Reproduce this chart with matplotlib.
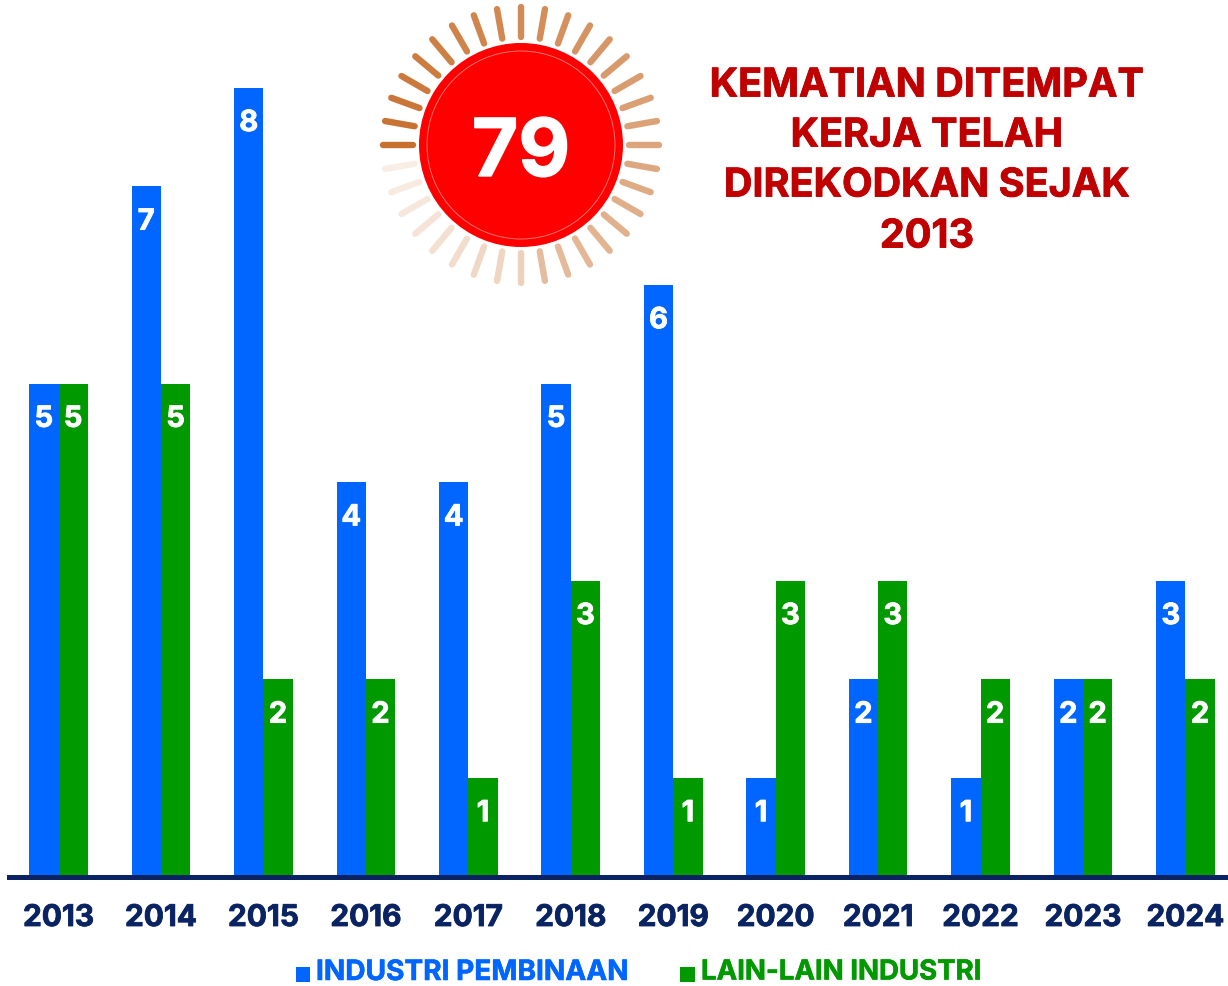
import numpy as np
import matplotlib
matplotlib.use('Agg')
import matplotlib.pyplot as plt
import matplotlib.patheffects as pe
from matplotlib.patches import Circle, Rectangle

# data
years = ['2013', '2014', '2015', '2016', '2017', '2018',
         '2019', '2020', '2021', '2022', '2023', '2024']
pembinaan = [5, 7, 8, 4, 4, 5, 6, 1, 2, 1, 2, 3]
lain_lain = [5, 5, 2, 2, 1, 3, 1, 3, 3, 2, 2, 2]
series_names = ['INDUSTRI PEMBINAAN', 'LAIN-LAIN INDUSTRI']
title_lines = ['KEMATIAN DITEMPAT', 'KERJA TELAH', 'DIREKODKAN SEJAK', '2013']
total = '79'

W, H = 1228, 987
BLUE = '#0066ff'
GREEN = '#009900'
NAVY = '#0a2463'
TITLE_RED = '#c00000'
FONT = 'Inter'

plt.rcParams['font.family'] = [FONT, 'DejaVu Sans']


def heavy(color, w=0.6):
    # thin outline, the original lettering is heavier than Inter Bold
    return [pe.withStroke(linewidth=w, foreground=color)]


fig = plt.figure(figsize=(W / 100, H / 100), dpi=100, facecolor='white')

# bar axes: bottom edge sits on the baseline
base_px = 877.5
group_px = 102.45
unit_px = 98.6
ax = fig.add_axes([0, (H - base_px) / H, 1, base_px / H])
ax.set_xlim(-58.5 / group_px, (W - 58.5) / group_px)
ax.set_ylim(0, base_px / unit_px)
ax.axis('off')

x = np.arange(len(years))
bw = 29.3 / group_px
bars1 = ax.bar(x - bw / 2, pembinaan, bw, color=BLUE, edgecolor='none')
bars2 = ax.bar(x + bw / 2, lain_lain, bw, color=GREEN, edgecolor='none')
for bars, vals in ((bars1, pembinaan), (bars2, lain_lain)):
    for b, v in zip(bars, vals):
        ax.annotate(str(v), (b.get_x() + b.get_width() / 2, v), xytext=(0, -25.8),
                    textcoords='offset points', ha='center', va='center',
                    color='white', fontsize=21, fontweight='bold',
                    path_effects=heavy('white'))

# overlay in pixel coordinates for the decoration and the text
ov = fig.add_axes([0, 0, 1, 1], facecolor='none')
ov.set_xlim(0, W)
ov.set_ylim(H, 0)
ov.axis('off')

ov.add_patch(Rectangle((7, 875.5), W - 7, 5.5, color=NAVY, lw=0))

for i, year in enumerate(years):
    ov.text(58.5 + group_px * i, 919, year, ha='center', va='center',
            color=NAVY, fontsize=21.5, fontweight='bold',
            path_effects=heavy(NAVY))

# sun
cx, cy = 521, 146
dark = np.array(matplotlib.colors.to_rgb('#c8702f'))
for k in range(36):
    ang = np.deg2rad(180 + k * 10)
    a = 1 - 0.72 * k / 35
    if k >= 27:
        a = 0.32 - (k - 27) * 0.025
    col = dark * a + (1 - a)
    ov.plot([cx + 108 * np.cos(ang), cx + 138 * np.cos(ang)],
            [cy + 108 * np.sin(ang), cy + 138 * np.sin(ang)],
            color=col, lw=4.6, solid_capstyle='round')
ov.add_patch(Circle((cx, cy), 102, color='#ff0000', lw=0))
ov.add_patch(Circle((cx, cy), 94, fill=False, edgecolor='#ff7070', lw=0.7))
ov.text(cx, 156, total, ha='center', va='center', color='white',
        fontsize=57.5, fontweight='bold', path_effects=heavy('white', 1.0))

# title
for line, y in zip(title_lines, [87, 137, 187, 238]):
    ov.text(927, y, line, ha='center', va='center', color=TITLE_RED,
            fontsize=28.5, fontweight='bold', path_effects=heavy(TITLE_RED))

# legend
ov.add_patch(Rectangle((295.5, 968), 14.5, 15, color=BLUE, lw=0))
ov.text(316, 973.5, series_names[0], ha='left', va='center', color=BLUE,
        fontsize=20.2, fontweight='bold', path_effects=heavy(BLUE, 0.4))
ov.add_patch(Rectangle((680, 968), 14.5, 15, color=GREEN, lw=0))
ov.text(701, 973.5, series_names[1], ha='left', va='center', color=GREEN,
        fontsize=19.85, fontweight='bold', path_effects=heavy(GREEN, 0.4))

fig.savefig('out.png', dpi=100, facecolor='white')
